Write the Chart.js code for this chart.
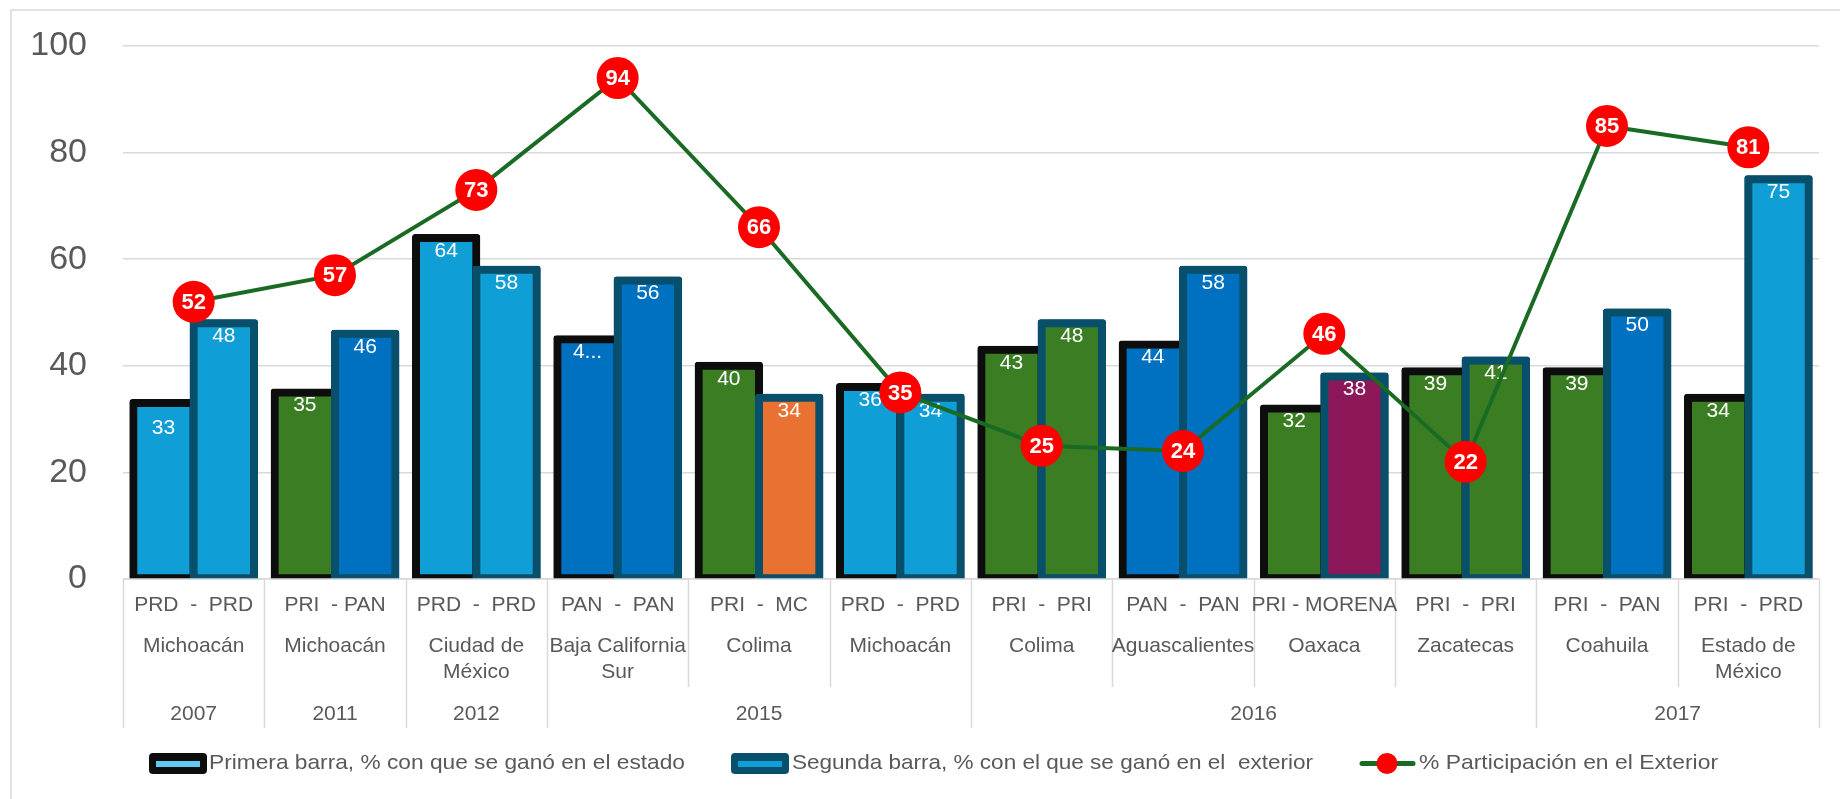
<!DOCTYPE html>
<html>
<head>
<meta charset="utf-8">
<script src="https://cdn.jsdelivr.net/npm/chart.js@4.4.1/dist/chart.umd.min.js"></script>
<style>
html,body{margin:0;padding:0;background:#fff;overflow:hidden;}
#c{display:block;}
</style>
</head>
<body>
<canvas id="c" width="1840" height="799"></canvas>
<script>
// ---------------- DATA ----------------
const parties = ['PRD  -  PRD','PRI  - PAN','PRD  -  PRD','PAN  -  PAN','PRI  -  MC','PRD  -  PRD',
                 'PRI  -  PRI','PAN  -  PAN','PRI - MORENA','PRI  -  PRI','PRI  -  PAN','PRI  -  PRD'];
const states = [['Michoacán'],['Michoacán'],['Ciudad de','México'],['Baja California','Sur'],['Colima'],['Michoacán'],
                ['Colima'],['Aguascalientes'],['Oaxaca'],['Zacatecas'],['Coahuila'],['Estado de','México']];
const years = ['2007','2011','2012','2015','2016','2017'];
const yearSpans = [1,1,1,3,4,2];
const firstBar = [33,35,64,45,40,36,43,44,32,39,39,34];
const secondBar = [48,46,58,56,34,34,48,58,38,41,50,75];
const participation = [52,57,73,94,66,35,25,24,46,22,85,81];
const firstBarText = ['33','35','64','4...','40','36','43','44','32','39','39','34'];
const secondBarText = secondBar.map(String);
const yTicks = [0,20,40,60,80,100];
const seriesNames = ['Primera barra, % con que se ganó en el estado',
                     'Segunda barra, % con el que se ganó en el  exterior',
                     '% Participación en el Exterior'];

// ---------------- STYLE ----------------
const LB = '#0F9ED5', BL = '#0070C0', GR = '#3B7D23', OR = '#E97132', PU = '#8C1759';
const firstColors  = [LB, GR, LB, BL, GR, LB, GR, BL, GR, GR, GR, GR];
const secondColors = [LB, BL, LB, BL, OR, LB, GR, BL, PU, GR, BL, LB];
const FONT = "'Liberation Sans', Arial, sans-serif";
const TXT = '#595959';
const GRID = '#D9D9D9';

Chart.defaults.font.family = FONT;

const categories = parties.map((p, i) => i);

const deco = {
  id: 'deco',
  beforeDraw(chart) {
    const ctx = chart.ctx;
    ctx.save();
    ctx.fillStyle = '#fff';
    ctx.fillRect(0, 0, chart.width, chart.height);
    ctx.strokeStyle = GRID;
    ctx.lineWidth = 1.5;
    ctx.strokeRect(11, 10, chart.width + 20, chart.height + 20);
    ctx.restore();
  },
  beforeDatasetDraw(chart, args) {
    if (args.index !== 0) return; // before the line: put 2nd bars over 1st, then bar labels
    const ctx = chart.ctx;
    const m2 = chart.getDatasetMeta(2);
    ctx.save();
    const a = chart.chartArea;
    ctx.beginPath();
    ctx.rect(0, 0, chart.width, a.bottom);
    ctx.clip();
    m2.controller.draw();
    ctx.restore();
    ctx.save();
    ctx.fillStyle = '#fff';
    ctx.font = '21px ' + FONT;
    ctx.textAlign = 'center';
    ctx.textBaseline = 'middle';
    const extra = {0: {0: 12}};
    [[1, firstBarText], [2, secondBarText]].forEach(([di, texts]) => {
      const meta = chart.getDatasetMeta(di);
      meta.data.forEach((el, i) => {
        const dy = (extra[di - 1] && extra[di - 1][i]) || 0;
        ctx.fillText(texts[i], el.x, el.y + 13 + dy);
      });
    });
    ctx.restore();
  },
  afterDatasetsDraw(chart) {
    const ctx = chart.ctx;
    const meta = chart.getDatasetMeta(0);
    ctx.save();
    ctx.fillStyle = '#fff';
    ctx.font = 'bold 22px ' + FONT;
    ctx.textAlign = 'center';
    ctx.textBaseline = 'middle';
    meta.data.forEach((el, i) => ctx.fillText(String(participation[i]), el.x, el.y + 1));
    ctx.restore();
  },
  afterDraw(chart) {
    const ctx = chart.ctx;
    const xs = chart.scales.x;
    const a = chart.chartArea;
    const n = categories.length;
    const cw = (a.right - a.left) / n;
    const bnd = k => xs.getPixelForValue(Math.min(k, n - 1)) + (k >= n ? cw / 2 : -cw / 2);
    ctx.save();
    ctx.strokeStyle = GRID;
    ctx.lineWidth = 1.5;
    // axis line
    ctx.beginPath();
    ctx.moveTo(a.left, a.bottom); ctx.lineTo(a.right, a.bottom); ctx.stroke();
    // separators
    const groupEdges = new Set([0]);
    let acc = 0;
    yearSpans.forEach(s => { acc += s; groupEdges.add(acc); });
    for (let k = 0; k <= n; k++) {
      const x = Math.round(bnd(k)) + 0.5;
      ctx.beginPath();
      ctx.moveTo(x, a.bottom);
      ctx.lineTo(x, groupEdges.has(k) ? 728 : 687);
      ctx.stroke();
    }
    // category texts
    ctx.fillStyle = TXT;
    ctx.font = '21px ' + FONT;
    ctx.textAlign = 'center';
    ctx.textBaseline = 'middle';
    categories.forEach(i => {
      const x = xs.getPixelForValue(i);
      ctx.fillText(parties[i], x, 605);
      states[i].forEach((s, j) => ctx.fillText(s, x, 646 + j * 26));
    });
    // years
    acc = 0;
    years.forEach((y, gi) => {
      const x0 = bnd(acc), x1 = bnd(acc + yearSpans[gi]);
      ctx.fillText(y, (x0 + x1) / 2, 714);
      acc += yearSpans[gi];
    });
    // legend
    const ly = 763.5;
    function rr(x, y, w, h, r) {
      ctx.beginPath();
      ctx.moveTo(x + r, y); ctx.lineTo(x + w - r, y); ctx.quadraticCurveTo(x + w, y, x + w, y + r);
      ctx.lineTo(x + w, y + h - r); ctx.quadraticCurveTo(x + w, y + h, x + w - r, y + h);
      ctx.lineTo(x + r, y + h); ctx.quadraticCurveTo(x, y + h, x, y + h - r);
      ctx.lineTo(x, y + r); ctx.quadraticCurveTo(x, y, x + r, y);
      ctx.closePath();
    }
    function legText(t, x, w) {
      ctx.save();
      ctx.fillStyle = TXT;
      ctx.font = "21px 'Liberation Sans Narrow', 'Liberation Sans', Arial, sans-serif";
      ctx.textAlign = 'left';
      ctx.textBaseline = 'middle';
      const m = ctx.measureText(t).width;
      ctx.translate(x, ly);
      ctx.scale(w / m, 1);
      ctx.fillText(t, 0, 0);
      ctx.restore();
    }
    rr(149, 753, 58, 21, 4); ctx.fillStyle = '#0D0D0D'; ctx.fill();
    ctx.fillStyle = '#60CAF3'; ctx.fillRect(156, 761, 44, 6);
    legText(seriesNames[0], 209, 476);
    rr(731, 753, 58, 21, 4); ctx.fillStyle = '#074F6A'; ctx.fill();
    ctx.fillStyle = LB; ctx.fillRect(738, 761, 44, 6);
    legText(seriesNames[1], 792, 521);
    ctx.strokeStyle = '#196B24'; ctx.lineWidth = 5; ctx.lineCap = 'round';
    ctx.beginPath(); ctx.moveTo(1362, ly); ctx.lineTo(1413, ly); ctx.stroke();
    ctx.fillStyle = '#FF0000';
    ctx.beginPath(); ctx.ellipse(1387, ly, 10.5, 10.5, 0, 0, Math.PI * 2); ctx.fill();
    legText(seriesNames[2], 1419, 299);
    ctx.restore();
  }
};

new Chart(document.getElementById('c'), {
  type: 'bar',
  data: {
    labels: categories,
    datasets: [
      {
        type: 'line', label: seriesNames[2], data: participation, order: 0,
        borderColor: '#196B24', borderWidth: 4, tension: 0,
        pointRadius: 21, pointHoverRadius: 21, pointBackgroundColor: '#FF0000',
        pointBorderColor: '#FF0000', pointBorderWidth: 0
      },
      {
        label: seriesNames[0], data: firstBar, order: 1,
        backgroundColor: firstColors, borderColor: '#0D0D0D', borderWidth: 8,
        borderSkipped: false, borderRadius: 3, inflateAmount: 4,
        categoryPercentage: 0.854, barPercentage: 1,
        clip: {left: false, right: false, top: false, bottom: 0}
      },
      {
        label: seriesNames[1], data: secondBar, order: 1,
        backgroundColor: secondColors, borderColor: '#074F6A', borderWidth: 8,
        borderSkipped: false, borderRadius: 3, inflateAmount: 4,
        categoryPercentage: 0.854, barPercentage: 1,
        clip: {left: false, right: false, top: false, bottom: 0}
      }
    ]
  },
  options: {
    responsive: false,
    devicePixelRatio: 1,
    animation: false,
    layout: { padding: { left: 0, right: 17, top: 46, bottom: 220 } },
    plugins: { legend: { display: false }, tooltip: { enabled: false } },
    scales: {
      x: { type: 'category', display: false, offset: true },
      y: {
        min: 0, max: 100,
        afterBuildTicks: s => { s.ticks = yTicks.map(v => ({ value: v })); },
        afterFit: s => { s.width = 123; },
        ticks: { padding: 0, color: TXT, font: { size: 34, family: FONT } },
        grid: { color: GRID, lineWidth: 1.5, drawTicks: true, tickLength: 36, tickColor: 'rgba(0,0,0,0)' },
        border: { display: false }
      }
    }
  },
  plugins: [deco]
});
</script>
</body>
</html>
